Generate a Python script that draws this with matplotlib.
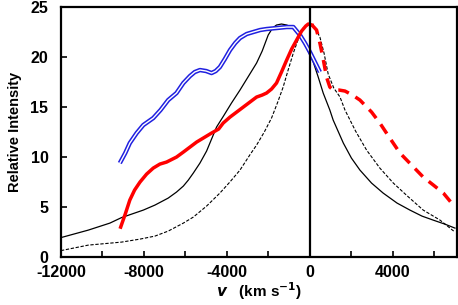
import numpy as np
import matplotlib.pyplot as plt

plt.rcParams['font.family'] = ['Liberation Sans', 'DejaVu Sans']
plt.rcParams['font.weight'] = 'bold'

# blue (double line) profile
blue_v = [-9160, -8900, -8680, -8350, -8030, -7550, -7200, -6830, -6430, -6100,
          -5780, -5550, -5300, -5000, -4740, -4540, -4340, -4100, -3850, -3600,
          -3370, -3050, -2730, -2400, -2090, -1600, -1120, -800, -480, -240,
          0, 240, 480]
blue_i = [9.4, 10.4, 11.4, 12.4, 13.2, 13.9, 14.7, 15.7, 16.4, 17.4,
          18.1, 18.5, 18.7, 18.6, 18.4, 18.6, 19.0, 19.8, 20.7, 21.4,
          21.9, 22.3, 22.5, 22.7, 22.8, 22.9, 23.0, 23.0, 22.2, 21.4,
          20.5, 19.5, 18.5]

# red solid part
red_v = [-9120, -8900, -8680, -8450, -8190, -7870, -7550, -7230, -6910, -6430,
         -6100, -5780, -5460, -5140, -4740, -4400, -4180, -3850, -3530, -3210,
         -2890, -2570, -2300, -2090, -1850, -1610, -1370, -1120, -880, -640,
         -400, -200, -80, 100]
red_i = [3.0, 4.3, 5.7, 6.7, 7.5, 8.3, 8.9, 9.3, 9.5, 10.0,
         10.5, 11.0, 11.5, 11.9, 12.4, 12.8, 13.4, 14.0, 14.5, 15.0,
         15.5, 16.0, 16.2, 16.4, 16.8, 17.4, 18.5, 19.7, 20.8, 21.7,
         22.6, 23.1, 23.3, 23.2]

# red dashed part
red_dash_v = [100, 320, 480, 640, 800, 960, 1120, 1400, 1690, 2050, 2410, 2970,
              3370, 3850, 4340, 4900, 5460, 5950, 6430, 6990]
red_dash_i = [23.2, 22.7, 21.4, 19.8, 18.0, 17.0, 16.7, 16.7, 16.6, 16.2, 15.7, 14.5,
              13.4, 11.9, 10.4, 9.2, 8.0, 7.2, 6.4, 5.0]

# black solid profile
blk_v = [-12000, -10680, -9640, -9080, -8030, -7470, -6830, -6430, -6100, -5860,
         -5620, -5300, -4980, -4740, -4500, -4180, -3780, -3370, -2970, -2570,
         -2300, -2010, -1800, -1610, -1370, -1120, -880, -640, -400, -160,
         160, 400, 640, 960, 1120, 1610, 2000, 2410, 2970, 3530, 4200, 4820,
         5400, 5940, 6500, 6990]
blk_i = [1.95, 2.7, 3.4, 3.95, 4.7, 5.2, 5.9, 6.5, 7.1, 7.7,
         8.4, 9.4, 10.6, 11.8, 13.0, 14.05, 15.4, 16.7, 18.05, 19.4,
         20.6, 22.2, 22.9, 23.2, 23.3, 23.2, 23.0, 22.5, 21.8, 20.9,
         19.5, 18.0, 16.4, 14.7, 13.7, 11.4, 9.9, 8.7, 7.4, 6.4, 5.4, 4.7,
         4.1, 3.7, 3.3, 2.9]

# black dashed profile
dsh_v = [-12000, -10680, -9080, -8190, -7470, -6830, -6100, -5620, -4980, -4340,
         -3860, -3370, -2900, -2570, -2200, -1850, -1550, -1290, -1050, -800,
         -560, -320, -100, 80, 280, 480, 680, 880, 1150, 1450, 1690, 2200,
         2730, 3370, 4020, 4700, 5460, 6270, 6990]
dsh_i = [0.65, 1.2, 1.5, 1.8, 2.1, 2.6, 3.4, 4.0, 5.1, 6.4,
         7.5, 8.7, 10.2, 11.2, 12.5, 13.9, 15.5, 17.0, 18.7, 20.4,
         21.8, 22.9, 23.2, 23.2, 22.8, 22.0, 20.4, 18.3, 16.9, 16.0, 14.7, 12.6,
         10.7, 8.9, 7.4, 6.1, 4.7, 3.7, 2.5]

fig = plt.figure(figsize=(4.58, 3.05), dpi=100)
ax = fig.add_axes([0.133, 0.157, 0.864, 0.82])

ax.plot(blk_v, blk_i, color='black', lw=0.9)
ax.plot(dsh_v, dsh_i, color='black', lw=0.8, ls=(0, (3, 1.5)))
ax.plot(blue_v, blue_i, color='#2020e0', lw=3.2, solid_capstyle='butt')
ax.plot(blue_v, blue_i, color='white', lw=1.0, solid_capstyle='butt')
ax.plot(red_v, red_i, color='red', lw=2.5)
ax.plot(red_dash_v, red_dash_i, color='red', lw=2.5, ls=(0, (3.2, 2.2)))

ax.axvline(0, color='black', lw=1.6)

ax.set_xlim(-12000, 7070)
ax.set_ylim(0, 25)
ax.set_xticks(np.arange(-12000, 7000, 2000))
ax.set_xticklabels([str(t) if t % 4000 == 0 else '' for t in range(-12000, 7000, 2000)])
ax.set_yticks([0, 5, 10, 15, 20, 25])
ax.tick_params(direction='in', length=4, width=1.2, labelsize=11.5)
ax.tick_params(axis='x', pad=6)
ax.tick_params(axis='y', pad=9)
for sp in ax.spines.values():
    sp.set_linewidth(1.6)

ax.set_ylabel('Relative Intensity', fontsize=10.5, fontweight='bold', labelpad=6)
ax.set_xlabel(r'$\mathbfit{v}$   (km s$^{\mathbf{-1}}$)', fontsize=11, fontweight='bold', labelpad=0)

fig.savefig('out.png', dpi=100)
